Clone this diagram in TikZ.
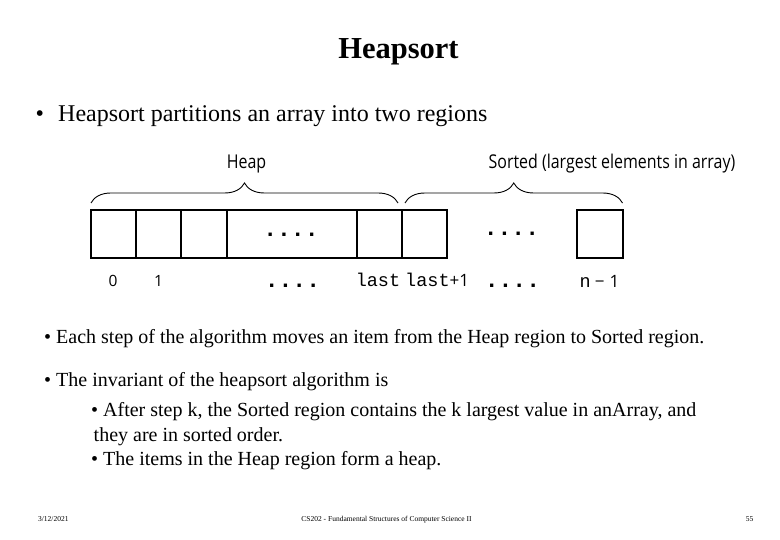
\documentclass[tikz,border=0pt]{standalone}
\usepackage{fontspec}
\setmainfont{Liberation Serif}
\setsansfont{Open Sans}
\setmonofont{Liberation Mono}
\usetikzlibrary{decorations.pathreplacing}
\tikzset{
  cellbox/.style={draw, line width=2.4pt, minimum height=48pt, inner sep=0pt, outer sep=0pt},
  bracepath/.style={draw, line width=0.9pt, decorate, decoration={brace, amplitude=20pt}},
  sanslab/.style={anchor=base, inner sep=0pt, font=\sffamily\fontsize{19}{19}\selectfont},
  idxlab/.style={anchor=base, inner sep=0pt, font=\sffamily\fontsize{15.5}{15.5}\selectfont},
  monolab/.style={anchor=base, inner sep=0pt, font=\ttfamily\fontsize{18.5}{18.5}\selectfont},
  dotrow/.style={anchor=base, inner sep=0pt, font=\ttfamily\bfseries\fontsize{23}{23}\selectfont},
  bodytxt/.style={anchor=base west, inner sep=0pt, font=\fontsize{20}{20}\selectfont},
  foot/.style={anchor=base, inner sep=0pt, font=\fontsize{7.5}{7.5}\selectfont}
}
\begin{document}
\begin{tikzpicture}[x=1pt, y=-1pt]
\useasboundingbox[fill=white] (0,0) rectangle (780,540);
% title
\node[anchor=base, inner sep=0pt, font=\bfseries\fontsize{30.5}{30.5}\selectfont] (title) at (398.5,58.3) {Heapsort};
\node[anchor=base west, inner sep=0pt, font=\fontsize{24}{24}\selectfont] (b1) at (35.5,121.7) {•};
\node[anchor=base west, inner sep=0pt, font=\fontsize{24}{24}\selectfont] (t1) at (58,121.7) {Heapsort partitions an array into two regions};
% array cells
\node[cellbox, minimum width=44.7pt] (c0) at (113.35,234) {};
\node[cellbox, minimum width=45.3pt] (c1) at (158.35,234) {};
\node[cellbox, minimum width=45.7pt] (c2) at (203.85,234) {};
\node[cellbox, minimum width=130pt] (cd) at (291.7,234) {};
\node[cellbox, minimum width=45pt] (cl) at (379.2,234) {};
\node[cellbox, minimum width=45pt] (cn) at (424.2,234) {};
\node[cellbox, minimum width=46pt] (ce) at (599.7,234) {};
\node[dotrow] (d1) at (291,237) {....};
\node[dotrow] (d2) at (511.5,236) {....};
% braces
\coordinate (hb1) at (91,203);
\coordinate (hb2) at (398,203);
\coordinate (sb1) at (405,203);
\coordinate (sb2) at (622.5,203);
\draw[bracepath] (hb1) -- (hb2);
\draw[bracepath] (sb1) -- (sb2);
\node[sanslab] (heap) at (246.5,168.5) {\scalebox{0.84}[1]{Heap}};
\node[sanslab] (sorted) at (612,168.5) {\scalebox{0.84}[1]{Sorted (largest elements in array)}};
% index labels
\node[idxlab] (i0) at (113,286.7) {0};
\node[idxlab] (i1) at (158.5,286.7) {1};
\node[dotrow] (d3) at (292.5,288) {....};
\node[monolab] (ilast) at (378,286.7) {last};
\node[anchor=base west, inner sep=0pt] (ilast1) at (405,286.7) {\ttfamily\fontsize{18.5}{18.5}\selectfont last\sffamily\fontsize{17}{17}\selectfont+1};
\node[dotrow] (d4) at (512.5,288) {....};
\node[anchor=base west, inner sep=0pt] (in1) at (579.5,287.3) {\ttfamily\fontsize{18.5}{18.5}\selectfont n\sffamily\fontsize{17}{17}\selectfont\hspace{4pt}−\hspace{5pt}1};
% body text
\node[bodytxt] (p1) at (44,343.3) {• Each step of the algorithm moves an item from the Heap region to Sorted region.};
\node[bodytxt] (p2) at (44,386.7) {• The invariant of the heapsort algorithm is};
\node[bodytxt] (p3) at (91,416.7) {• After step k, the Sorted region contains the k largest value in anArray, and};
\node[bodytxt] (p4) at (93.5,441.7) {they are in sorted order.};
\node[bodytxt] (p5) at (91,465) {• The items in the Heap region form a heap.};
% footer
\node[foot] (f1) at (53.3,521.7) {3/12/2021};
\node[foot] (f2) at (386.5,521.7) {CS202 - Fundamental Structures of Computer Science II};
\node[foot] (f3) at (749.7,521.7) {55};
\end{tikzpicture}
\end{document}
